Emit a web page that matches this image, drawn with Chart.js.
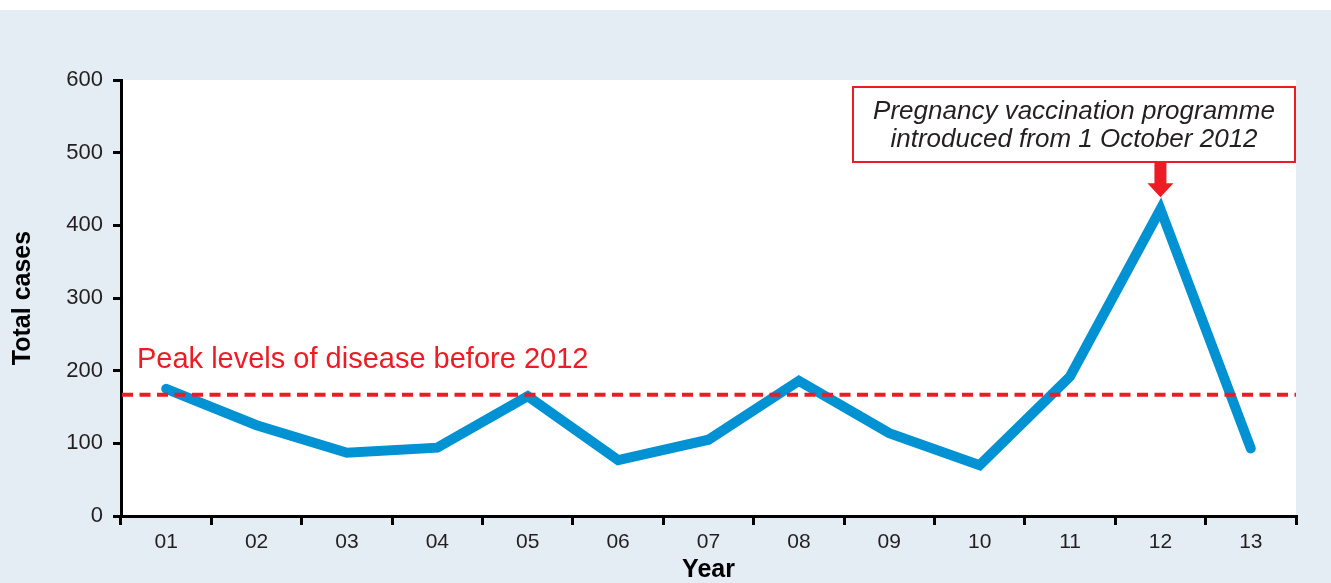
<!DOCTYPE html>
<html>
<head>
<meta charset="utf-8">
<script src="https://cdn.jsdelivr.net/npm/chart.js@4"></script>
<style>
  html, body { margin: 0; padding: 0; background: #ffffff; }
  #wrap { width: 1331px; height: 583px; }
</style>
</head>
<body>
<div id="wrap"><canvas id="c" width="1331" height="583"></canvas></div>
<script>
// ---- data ----
const years = ['01','02','03','04','05','06','07','08','09','10','11','12','13'];
const totalCases = [175, 125, 87, 94, 165, 77, 105, 186, 114, 70, 192, 422, 93];
const yTicks = [0, 100, 200, 300, 400, 500, 600];
const peakLevelBefore2012 = 167;
const peakLabel = 'Peak levels of disease before 2012';
const calloutLines = ['Pregnancy vaccination programme', 'introduced from 1 October 2012'];
const calloutIndex = 11; // year "12"

const BLUE = '#0092d2';
const RED = '#ed1c24';
const BG = '#e4ecf4';
const TXT = '#231f20';
const FONT = '"Liberation Sans", Arial, Helvetica, sans-serif';

const decor = {
  id: 'decor',
  beforeDraw(chart) {
    const { ctx, chartArea: a, width, height } = chart;
    ctx.save();
    ctx.fillStyle = '#ffffff';
    ctx.fillRect(0, 0, width, height);
    ctx.fillStyle = BG;
    ctx.fillRect(0, 10, width, height - 10);
    ctx.fillStyle = '#ffffff';
    ctx.fillRect(a.left, a.top, a.right - a.left, a.bottom - a.top);
    ctx.restore();
  },
  afterDatasetsDraw(chart) {
    const { ctx, chartArea: a, scales } = chart;
    const y = scales.y.getPixelForValue(peakLevelBefore2012);
    ctx.save();
    // dashed peak line
    ctx.strokeStyle = RED;
    ctx.lineWidth = 4;
    ctx.setLineDash([11, 6.5]);
    ctx.beginPath();
    ctx.moveTo(a.left + 1, y);
    ctx.lineTo(a.right, y);
    ctx.stroke();
    ctx.setLineDash([]);
    // peak label
    ctx.fillStyle = RED;
    ctx.font = '29px ' + FONT;
    ctx.textAlign = 'left';
    ctx.textBaseline = 'alphabetic';
    ctx.fillText(peakLabel, a.left + 16, y - 27);

    // callout box
    const px = scales.x.getPixelForValue(calloutIndex);
    const py = scales.y.getPixelForValue(totalCases[calloutIndex]);
    const boxL = 853, boxR = a.right - 1, boxT = 87, boxB = 162;
    ctx.fillStyle = '#ffffff';
    ctx.fillRect(boxL, boxT, boxR - boxL, boxB - boxT);
    ctx.strokeStyle = RED;
    ctx.lineWidth = 2;
    ctx.strokeRect(boxL, boxT, boxR - boxL, boxB - boxT);
    ctx.fillStyle = TXT;
    ctx.font = 'italic 26px ' + FONT;
    ctx.textAlign = 'center';
    const cx = (boxL + boxR) / 2;
    ctx.fillText(calloutLines[0], cx, 119);
    ctx.fillText(calloutLines[1], cx, 147);

    // arrow
    const tip = py - 12;
    ctx.fillStyle = RED;
    ctx.beginPath();
    ctx.moveTo(px - 6, boxB + 1);
    ctx.lineTo(px + 6, boxB + 1);
    ctx.lineTo(px + 6, tip - 14);
    ctx.lineTo(px + 13, tip - 14);
    ctx.lineTo(px, tip);
    ctx.lineTo(px - 13, tip - 14);
    ctx.lineTo(px - 6, tip - 14);
    ctx.closePath();
    ctx.fill();
    ctx.restore();
  }
};

new Chart(document.getElementById('c'), {
  type: 'line',
  data: {
    labels: years,
    datasets: [{
      data: totalCases,
      borderColor: BLUE,
      borderWidth: 10,
      borderCapStyle: 'round',
      borderJoinStyle: 'miter',
      pointRadius: 0,
      pointHoverRadius: 0,
      tension: 0,
      fill: false
    }]
  },
  options: {
    responsive: false,
    animation: false,
    devicePixelRatio: 1,
    events: [],
    layout: { padding: { top: 80, right: 35, left: 0, bottom: 0 } },
    plugins: { legend: { display: false }, tooltip: { enabled: false }, title: { display: false } },
    scales: {
      x: {
        type: 'category',
        offset: true,
        grid: { offset: true, drawOnChartArea: false, drawTicks: true, tickLength: 9, color: '#000', lineWidth: 3 },
        border: { display: true, color: '#000', width: 3 },
        ticks: { color: TXT, font: { family: FONT, size: 21 }, padding: 5, maxRotation: 0, autoSkip: false },
        title: { display: true, text: 'Year', color: '#000', font: { family: FONT, size: 25, weight: 'bold', lineHeight: 1 }, padding: { top: 0, bottom: 0 } },
        afterFit(s) { s.height = 67; }
      },
      y: {
        min: 0, max: 600,
        afterBuildTicks(s) { s.ticks = yTicks.map(v => ({ value: v })); },
        grid: { drawOnChartArea: false, drawTicks: true, tickLength: 8, color: '#000', lineWidth: 3 },
        border: { display: true, color: '#000', width: 3 },
        ticks: { color: TXT, font: { family: FONT, size: 22 }, padding: 10 },
        title: { display: true, text: 'Total cases', color: '#000', font: { family: FONT, size: 25, weight: 'bold', lineHeight: 1 }, padding: { top: 11, bottom: 0 } },
        afterFit(s) { s.width = 121; }
      }
    }
  },
  plugins: [decor]
});
</script>
</body>
</html>
